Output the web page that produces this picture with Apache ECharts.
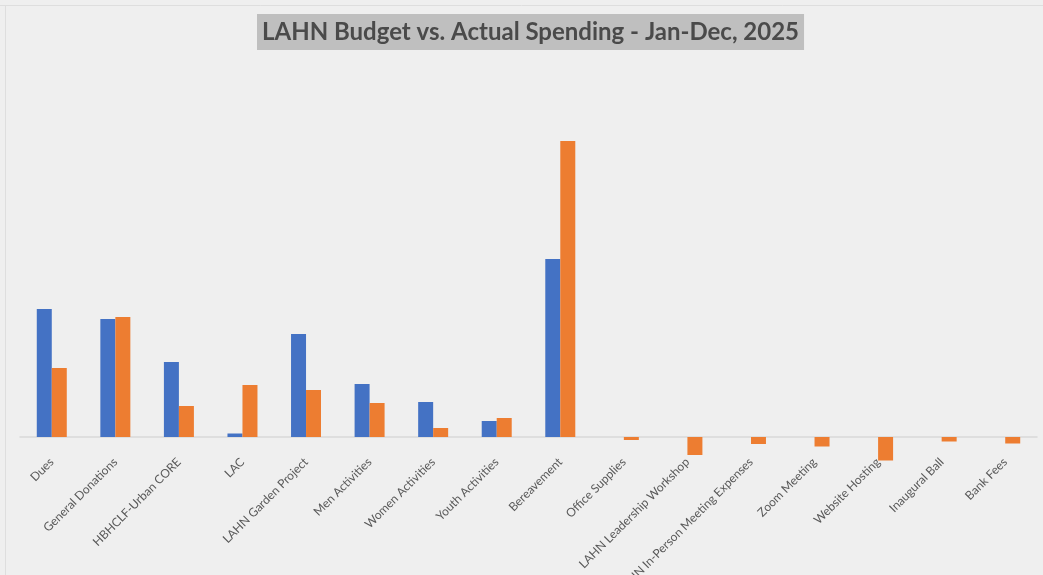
<!DOCTYPE html>
<html>
<head>
<meta charset="utf-8">
<script src="https://cdn.jsdelivr.net/npm/echarts@6/dist/echarts.min.js"></script>
<style>html,body{margin:0;padding:0;background:#efefef;}#main{width:1043px;height:575px;}</style>
</head>
<body>
<div id="main"></div>
<script>
const categories = ["Dues","General Donations","HBHCLF-Urban CORE","LAC","LAHN Garden Project","Men Activities","Women Activities","Youth Activities","Bereavement","Office Supplies","LAHN Leadership Workshop","LAHN In-Person Meeting Expenses","Zoom Meeting","Website Hosting","Inaugural Ball","Bank Fees"];
const budget = [1280, 1180, 750, 35, 1030, 530, 350, 160, 1780, 0, 0, 0, 0, 0, 0, 0];
const actual = [690, 1200, 310, 520, 470, 340, 90, 190, 2960, -30, -180, -70, -95, -235, -45, -65];
const titleText = "LAHN Budget vs. Actual Spending - Jan-Dec, 2025";

const chart = echarts.init(document.getElementById('main'));
chart.setOption({
  backgroundColor: '#efefef',
  animation: false,
  title: {
    text: titleText,
    left: 257,
    top: 14,
    backgroundColor: '#bfbfbf',
    padding: [6, 5, 6, 5],
    textStyle: { fontFamily: 'Lato', fontWeight: 'bold', fontSize: 24, color: '#4a4a4a' }
  },
  graphic: [
    { type: 'line', shape: { x1: 0, y1: 5.5, x2: 1043, y2: 5.5 }, style: { stroke: '#dedede', lineWidth: 1 }, silent: true },
    { type: 'line', shape: { x1: 5.5, y1: 5, x2: 5.5, y2: 575 }, style: { stroke: '#dedede', lineWidth: 1 }, silent: true }
  ],
  grid: { left: 20, right: 6, top: 80, bottom: 105, containLabel: false, outerBoundsMode: 'none' },
  xAxis: {
    type: 'category',
    data: categories,
    axisLine: { onZero: true, lineStyle: { color: '#d9d9d9', width: 1.5 } },
    axisTick: { show: false },
    axisLabel: { rotate: 45, interval: 0, fontFamily: 'Lato', fontSize: 12, color: '#595959', margin: -10 }
  },
  yAxis: {
    type: 'value',
    min: -330,
    max: 3570,
    show: false,
    splitLine: { show: false }
  },
  series: [
    { name: 'Budget', type: 'bar', data: budget, barWidth: 15, barGap: '0%', itemStyle: { color: '#4472c4' } },
    { name: 'Actual', type: 'bar', data: actual, barWidth: 15, itemStyle: { color: '#ed7d31' } }
  ]
});
</script>
</body>
</html>
